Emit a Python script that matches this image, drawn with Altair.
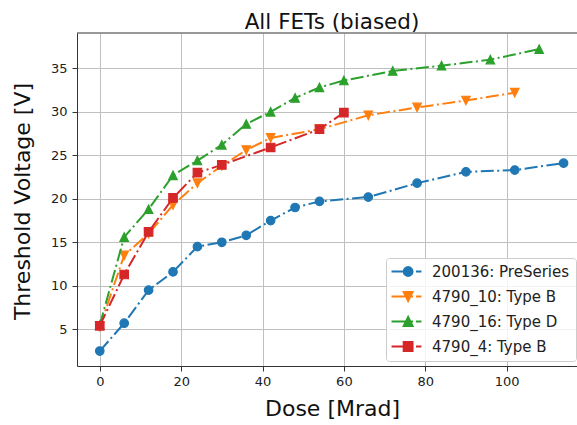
import altair as alt
import pandas as pd

# Series names, colours and marker symbols
names = ["200136: PreSeries", "4790_10: Type B", "4790_16: Type D", "4790_4: Type B"]
colors = ["#1f77b4", "#ff7f0e", "#2ca02c", "#d62728"]

# Threshold voltage [V] versus dose [Mrad]
dose_200136 = [0, 6, 12, 18, 24, 30, 36, 42, 48, 54, 66, 78, 90, 102, 114]
vth_200136 = [2.5, 5.7, 9.5, 11.6, 14.5, 15.0, 15.8, 17.5, 19.0, 19.7, 20.2, 21.8, 23.1, 23.3, 24.1]

dose_4790_10 = [0, 6, 12, 18, 24, 30, 36, 42, 54, 66, 78, 90, 102]
vth_4790_10 = [5.3, 13.5, 16.0, 19.3, 21.8, 23.8, 25.6, 27.0, 28.0, 29.6, 30.5, 31.3, 32.2]

dose_4790_16 = [0, 6, 12, 18, 24, 30, 36, 42, 48, 54, 60, 72, 84, 96, 108]
vth_4790_16 = [5.5, 15.6, 18.8, 22.7, 24.4, 26.2, 28.6, 30.0, 31.6, 32.8, 33.6, 34.7, 35.3, 36.0, 37.2]

dose_4790_4 = [0, 6, 12, 18, 24, 30, 42, 54, 60]
vth_4790_4 = [5.4, 11.3, 16.2, 20.1, 23.0, 23.9, 25.9, 28.0, 29.9]

x_ticks = [0, 20, 40, 60, 80, 100]
y_ticks = [5, 10, 15, 20, 25, 30, 35]

series = [
    (dose_200136, vth_200136),
    (dose_4790_10, vth_4790_10),
    (dose_4790_16, vth_4790_16),
    (dose_4790_4, vth_4790_4),
]
rows = []
for name, (doses, volts) in zip(names, series):
    for d, v in zip(doses, volts):
        rows.append({"series": name, "dose": d, "vth": v})
df = pd.DataFrame(rows)

# marker outlines: circle, triangle down, triangle up, square
marker_paths = [
    "circle",
    "M0,1L-1,-1L1,-1Z",
    "M0,-1L-1,1L1,1Z",
    "square",
]
# legend handles (unit = 6.5 px): dash-dot line segment with the marker on it
seg = "M-2.3,0L1.0,0M1.45,0L2.3,0"
legend_paths = [
    seg + "M0.93,0A0.68,0.68,0,1,1,-0.43,0A0.68,0.68,0,1,1,0.93,0Z",
    seg + "M-0.43,-0.68L0.93,-0.68L0.25,0.68Z",
    seg + "M-0.43,0.68L0.93,0.68L0.25,-0.68Z",
    seg + "M-0.43,-0.68L0.93,-0.68L0.93,0.68L-0.43,0.68Z",
]


def js_list(items):
    return "[" + ",".join("'" + s + "'" for s in items) + "]"


idx = "indexof(" + js_list(names) + ", datum.value)"
shape_expr = js_list(legend_paths) + "[" + idx + "]"
color_expr = js_list(colors) + "[" + idx + "]"

FONT = "DejaVu Sans"

x_enc = alt.X(
    "dose:Q",
    scale=alt.Scale(domain=[-5.6, 117.3], nice=False, zero=False),
    axis=alt.Axis(
        values=x_ticks,
        title="Dose [Mrad]",
        titleFontSize=22,
        titleFont=FONT,
        titleFontWeight="normal",
        titleColor="#111",
        titleBaseline="alphabetic",
        titleY=49,
        titleX=255,
        titleAnchor="start",
        titleAlign="center",
    ),
)
y_enc = alt.Y(
    "vth:Q",
    scale=alt.Scale(domain=[0.78, 39.06], nice=False, zero=False),
    axis=alt.Axis(
        values=y_ticks,
        title="Threshold Voltage [V]",
        titleFontSize=22,
        titleFont=FONT,
        titleFontWeight="normal",
        titleColor="#111",
        titleAngle=270,
        titleBaseline="alphabetic",
        titleAlign="center",
        titleX=-48,
        titleY=168,
        titleAnchor="start",
    ),
)
color_enc = alt.Color(
    "series:N",
    scale=alt.Scale(domain=names, range=colors),
    legend=alt.Legend(
        title=None,
        orient="none",
        legendX=309,
        legendY=225,
        symbolType={"expr": shape_expr},
        symbolFillColor={"expr": color_expr},
        symbolSize=169,
        symbolOffset=7,
        symbolStrokeWidth=2,
        symbolOpacity=1,
        labelFont=FONT,
        labelFontSize=15,
        labelColor="#222",
        labelOffset=18,
        fillColor="rgba(255,255,255,0.8)",
        strokeColor="#cccccc",
        cornerRadius=3,
        padding=6,
        rowPadding=8,
    ),
)

base = alt.Chart(df)
layers = []
for name, path, col in zip(names, marker_paths, colors):
    sub = base.transform_filter(alt.datum.series == name)
    layers.append(
        sub.mark_line(strokeWidth=2, strokeDash=[13, 3.5, 2, 3.5]).encode(
            x=x_enc, y=y_enc, color=color_enc, order=alt.Order("dose:Q")
        )
    )
    layers.append(
        sub.mark_point(
            shape=path, filled=True, size=72, stroke=col, strokeWidth=1.2, opacity=1
        ).encode(x=x_enc, y=y_enc, color=color_enc)
    )

# upper spine of the axes box
top_edge = alt.Chart(pd.DataFrame({"edge": ["top"]})).mark_rule(
    color="#333", strokeWidth=1
).encode(x=alt.value(0), x2=alt.value(500), y=alt.value(0))

chart = (
    alt.layer(*layers, top_edge)
    .properties(
        width=500,
        height=333,
        autosize=alt.AutoSizeParams(type="none"),
        padding={"left": 77, "top": 33, "right": 0, "bottom": 59},
        title=alt.TitleParams(
            "All FETs (biased)",
            font=FONT,
            fontSize=21.5,
            fontWeight="normal",
            color="#111",
            anchor="middle",
            dx=5,
            dy=26,
            baseline="alphabetic",
            offset=8,
        ),
    )
    .configure_view(stroke=None)
    .configure_axis(
        domainColor="#333",
        domainWidth=1,
        tickColor="#333",
        tickSize=5,
        tickWidth=1,
        labelFont=FONT,
        labelFontSize=13,
        labelColor="#222",
        labelPadding=4,
        gridColor="#c0c0c0",
        gridWidth=1,
    )
    .configure_axisY(labelPadding=5)
)

chart.save("out.html", embed_options={"renderer": "svg", "actions": False})
